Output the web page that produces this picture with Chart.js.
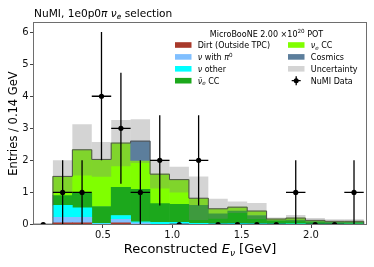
<!DOCTYPE html>
<html>
<head>
<meta charset="utf-8">
<script src="https://cdn.jsdelivr.net/npm/chart.js@4.4.0/dist/chart.umd.min.js"></script>
<style>
  html, body { margin: 0; padding: 0; background: #fff; }
  #wrap { width: 374px; height: 267px; }
</style>
</head>
<body>
<div id="wrap"><canvas id="myChart" width="374" height="267"></canvas></div>
<script>
// bin centres (GeV), bin width 0.14
const binCenters = [0.21, 0.35, 0.49, 0.63, 0.77, 0.91, 1.05, 1.19, 1.33, 1.47, 1.61, 1.75, 1.89, 2.03, 2.17, 2.31]
const halfBin = 0.07

// stacked MC, entries per bin
const dirt   = [0.05, 0.05, 0.00, 0.05, 0.00, 0.00, 0.00, 0.00, 0.00, 0.00, 0.00, 0.00, 0.00, 0.00, 0.00, 0.00]
const pi0    = [0.17, 0.17, 0.02, 0.11, 0.05, 0.00, 0.02, 0.00, 0.00, 0.00, 0.00, 0.00, 0.00, 0.00, 0.00, 0.00]
const other  = [0.38, 0.30, 0.02, 0.12, 0.03, 0.07, 0.05, 0.04, 0.03, 0.04, 0.03, 0.02, 0.02, 0.01, 0.01, 0.01]
const nuebar = [0.30, 0.45, 0.52, 0.88, 1.02, 0.58, 0.56, 0.56, 0.30, 0.38, 0.25, 0.10, 0.12, 0.08, 0.06, 0.06]
const nue    = [0.60, 1.36, 1.47, 1.38, 0.90, 0.92, 0.77, 0.22, 0.16, 0.12, 0.14, 0.05, 0.06, 0.04, 0.03, 0.03]
const cosmic = [0.00, 0.00, 0.00, 0.00, 0.60, 0.00, 0.00, 0.00, 0.00, 0.00, 0.00, 0.00, 0.00, 0.00, 0.00, 0.00]
const unc    = [0.50, 0.80, 0.54, 0.72, 0.68, 0.45, 0.40, 0.68, 0.31, 0.18, 0.25, 0.05, 0.10, 0.07, 0.06, 0.06]

// NuMI data
const dataX   = [0.07, 0.21, 0.35, 0.49, 0.63, 0.77, 0.91, 1.05, 1.19, 1.33, 1.47, 1.61, 1.75, 1.89, 2.03, 2.17, 2.31]
const dataY   = [0, 1, 1, 4, 3, 1, 2, 0, 2, 0, 0, 0, 0, 1, 0, 0, 1]
const dataErr = [0, 1, 1, 2, 1.73, 1, 1.41, 0, 1.41, 0, 0, 0, 0, 1, 0, 0, 1]

const xTicks = [0.5, 1.0, 1.5, 2.0]
const yTicks = [0, 1, 2, 3, 4, 5, 6]

const colors = {
    dirt: '#a8392a',
    pi0: '#80bfff',
    other: '#00ffff',
    nuebar: '#1ca81c',
    nue: '#80ff00',
    cosmic: '#5c7e9c',
    unc: 'rgba(128,128,128,0.34)'
}

const FONT = '"DejaVu Sans"'

// totals for the outline and the uncertainty band
const below = binCenters.map((c, i) => dirt[i] + pi0[i] + other[i] + nuebar[i] + nue[i])
const total = below.map((v, i) => v + cosmic[i])

const pts = arr => binCenters.map((c, i) => ({x: c, y: arr[i]}))

const outline = [{x: binCenters[0] - halfBin, y: 0}]
binCenters.forEach((c, i) => outline.push({x: c - halfBin, y: total[i]}))
outline.push({x: binCenters[binCenters.length - 1] + halfBin, y: 0})

function barSet(label, arr, color) {
    return {
        type: 'bar', label, data: pts(arr), backgroundColor: color,
        borderWidth: 0, stack: 'mc', grouped: false, order: 5,
        barPercentage: 1, categoryPercentage: 1
    }
}

function rich(ctx, parts, x, y, align, size, color) {
    const fontOf = p => {
        const s = (p.sub || p.sup) ? size * 0.7 : size
        return (p.it ? 'italic ' : '') + s + 'px ' + FONT
    }
    let w = 0
    parts.forEach(p => { ctx.font = fontOf(p); w += ctx.measureText(p.t).width })
    let cx = align === 'center' ? x - w / 2 : x
    ctx.fillStyle = color || '#000'
    ctx.textBaseline = 'alphabetic'
    ctx.textAlign = 'left'
    parts.forEach(p => {
        ctx.font = fontOf(p)
        const dy = p.sub ? size * 0.22 : p.sup ? -size * 0.4 : 0
        ctx.fillText(p.t, cx, y + dy)
        cx += ctx.measureText(p.t).width
    })
}

const extras = {
    id: 'extras',
    afterDatasetsDraw(chart) {
        const {ctx, chartArea: a, scales: {x, y}} = chart
        ctx.save()
        ctx.beginPath()
        ctx.rect(a.left, a.top, a.right - a.left, a.bottom - a.top)
        ctx.clip()
        ctx.strokeStyle = '#000'
        ctx.lineWidth = 1.3
        dataX.forEach((cx, i) => {
            const px = x.getPixelForValue(cx)
            const py = y.getPixelForValue(dataY[i])
            ctx.beginPath()
            ctx.moveTo(x.getPixelForValue(cx - halfBin), py)
            ctx.lineTo(x.getPixelForValue(cx + halfBin), py)
            if (dataErr[i] > 0) {
                ctx.moveTo(px, y.getPixelForValue(dataY[i] - dataErr[i]))
                ctx.lineTo(px, y.getPixelForValue(dataY[i] + dataErr[i]))
            }
            ctx.stroke()
        })
        ctx.restore()
    },
    afterDraw(chart) {
        const {ctx, chartArea: a} = chart
        ctx.save()
        // frame
        ctx.strokeStyle = '#6e6e6e'
        ctx.lineWidth = 1
        ctx.strokeRect(a.left, a.top, a.right - a.left, a.bottom - a.top)

        // title
        rich(ctx, [{t: 'NuMI, 1e0p0'}, {t: 'π', it: 1}, {t: ' '}, {t: 'ν', it: 1}, {t: 'e', it: 1, sub: 1}, {t: ' selection'}],
            34, 17, 'left', 10.6)
        // x title
        rich(ctx, [{t: 'Reconstructed '}, {t: 'E', it: 1}, {t: 'ν', it: 1, sub: 1}, {t: ' [GeV]'}],
            (a.left + a.right) / 2, 253, 'center', 13)
        // y title
        ctx.save()
        ctx.translate(16.5, (a.top + a.bottom) / 2)
        ctx.rotate(-Math.PI / 2)
        rich(ctx, [{t: 'Entries / 0.14 GeV'}], 0, 0, 'center', 11.5)
        ctx.restore()

        // legend
        rich(ctx, [{t: 'MicroBooNE 2.00 ×10'}, {t: '20', sup: 1}, {t: ' POT'}], 266.5, 36.5, 'center', 8)
        const rows = [45, 56.9, 68.8, 80.7]
        const col1 = [
            [colors.dirt, [{t: 'Dirt (Outside TPC)'}]],
            [colors.pi0, [{t: 'ν', it: 1}, {t: ' with '}, {t: 'π', it: 1}, {t: '0', sup: 1}]],
            [colors.other, [{t: 'ν', it: 1}, {t: ' other'}]],
            [colors.nuebar, [{t: 'ν\u0304', it: 1}, {t: 'e', it: 1, sub: 1}, {t: ' CC'}]]
        ]
        const col2 = [
            [colors.nue, [{t: 'ν', it: 1}, {t: 'e', it: 1, sub: 1}, {t: ' CC'}]],
            [colors.cosmic, [{t: 'Cosmics'}]],
            [colors.unc, [{t: 'Uncertainty'}]],
            [null, [{t: 'NuMI Data'}]]
        ]
        col1.forEach((r, i) => {
            ctx.fillStyle = r[0]
            ctx.fillRect(175, rows[i] - 2.8, 16.5, 5.6)
            rich(ctx, r[1], 197.7, rows[i] + 3, 'left', 8)
        })
        col2.forEach((r, i) => {
            if (r[0]) {
                ctx.fillStyle = r[0]
                ctx.fillRect(288, rows[i] - 2.8, 16.5, 5.6)
            } else {
                const mx = 296.2, my = rows[i]
                ctx.strokeStyle = '#000'
                ctx.lineWidth = 1.3
                ctx.beginPath()
                ctx.moveTo(mx - 4.5, my); ctx.lineTo(mx + 4.5, my)
                ctx.moveTo(mx, my - 4.5); ctx.lineTo(mx, my + 4.5)
                ctx.stroke()
                ctx.fillStyle = '#000'
                ctx.beginPath(); ctx.arc(mx, my, 2.5, 0, Math.PI * 2); ctx.fill()
            }
            rich(ctx, r[1], 310.8, rows[i] + 3, 'left', 8)
        })
        ctx.restore()
    }
}

const ctx = document.getElementById('myChart')
new Chart(ctx, {
    type: 'bar',
    data: {
        datasets: [
            barSet('Dirt (Outside TPC)', dirt, colors.dirt),
            barSet('ν with π0', pi0, colors.pi0),
            barSet('ν other', other, colors.other),
            barSet('ν̄e CC', nuebar, colors.nuebar),
            barSet('νe CC', nue, colors.nue),
            {
                type: 'bar', label: 'Uncertainty',
                data: binCenters.map((c, i) => ({x: c, y: [total[i] - unc[i], total[i] + unc[i]]})),
                backgroundColor: colors.unc, borderWidth: 0, stack: 'unc', grouped: false, order: 4,
                barPercentage: 1, categoryPercentage: 1, inflateAmount: 0
            },
            {
                type: 'bar', label: 'Cosmics',
                data: binCenters.map((c, i) => ({x: c, y: cosmic[i] > 0 ? [below[i], total[i]] : null})),
                backgroundColor: colors.cosmic, borderWidth: 0, stack: 'cos', grouped: false, order: 3,
                barPercentage: 1, categoryPercentage: 1
            },
            {
                type: 'line', label: 'total', data: outline, stepped: true, stack: 'outline',
                borderColor: '#505050', borderWidth: 1, pointRadius: 0, fill: false, order: 2, clip: 0
            },
            {
                type: 'scatter', label: 'NuMI Data', data: dataX.map((v, i) => ({x: v, y: dataY[i]})),
                backgroundColor: '#000', borderWidth: 0, pointRadius: 2.6, stack: 'data', order: 1, clip: 0
            }
        ]
    },
    options: {
        responsive: false,
        animation: false,
        devicePixelRatio: 1,
        layout: {padding: {left: 0, right: 7.5, top: 22.5, bottom: 0}},
        plugins: {legend: {display: false}, tooltip: {enabled: false}},
        scales: {
            x: {
                type: 'linear', min: 0, max: 2.4, offset: false,
                afterBuildTicks: s => { s.ticks = xTicks.map(v => ({value: v})) },
                afterFit: s => { s.height = 42.5 },
                ticks: {color: '#111', font: {family: FONT, size: 10}, padding: 1.5, maxRotation: 0,
                    callback: v => v.toFixed(1)},
                grid: {drawOnChartArea: false, drawTicks: true, tickLength: 3.5, color: '#444', offset: false},
                border: {display: false}
            },
            y: {
                stacked: true, min: 0, max: 6.3,
                afterBuildTicks: s => { s.ticks = yTicks.map(v => ({value: v})) },
                afterFit: s => { s.width = 33.5 },
                ticks: {color: '#111', font: {family: FONT, size: 10}, padding: 1.5},
                grid: {drawOnChartArea: false, drawTicks: true, tickLength: 3.5, color: '#444'},
                border: {display: false}
            }
        }
    },
    plugins: [extras]
})
</script>
</body>
</html>
